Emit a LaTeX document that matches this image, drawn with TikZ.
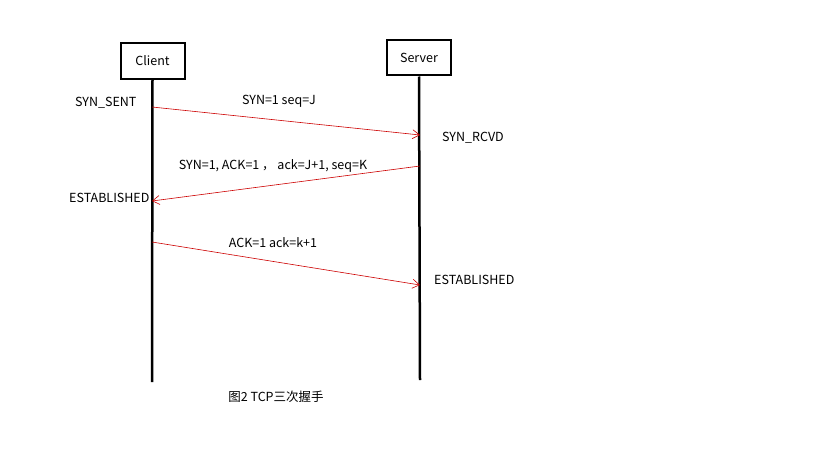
\documentclass[tikz,border=0pt]{standalone}
\usepackage{fontspec}
\setmainfont{Noto Sans CJK SC}
\usetikzlibrary{arrows.meta}
\begin{document}
\begin{tikzpicture}[x=1pt,y=-1pt,
  box/.style={draw,line width=2pt,minimum width=64pt,minimum height=35pt,inner sep=0pt,font=\fontsize{12.5}{14}\selectfont},
  life/.style={line width=2.5pt},
  msg/.style={draw=red!80!black,line width=0.6pt,-{Straight Barb[length=7pt,width=9pt]}},
  lbl/.style={font=\fontsize{12.5}{14}\selectfont}]
\useasboundingbox (0,0) rectangle (819,460);
\node[box] (c) at (152.5,61) {Client};
\node[box] (s) at (419,58) {Server};
\coordinate (cb) at (152,382);
\coordinate (sb) at (420,380);
\draw[life] (c.south) -- (cb);
\draw[life] (s.south) -- (sb);
\coordinate (a1) at (152,107); \coordinate (b1) at (420,135);
\coordinate (a2) at (420,166); \coordinate (b2) at (152,201);
\coordinate (a3) at (152,242); \coordinate (b3) at (420,285);
\draw[msg] (a1) -- (b1);
\draw[msg] (a2) -- (b2);
\draw[msg] (a3) -- (b3);
\node[lbl] (l1) at (279,101) {SYN=1 seq=J};
\node[lbl] (l2) at (273,166) {SYN=1, ACK=1 ， ack=J+1, seq=K};
\node[lbl] (l3) at (273,243) {ACK=1 ack=k+1};
\node[lbl,anchor=west,inner sep=0pt] (t1) at (75,103) {SYN\_SENT};
\node[lbl,anchor=west,inner sep=0pt] (t2) at (442,138) {SYN\_RCVD};
\node[lbl,anchor=west,inner sep=0pt] (t3) at (69,198) {ESTABLISHED};
\node[lbl,anchor=west,inner sep=0pt] (t4) at (434,280) {ESTABLISHED};
\node[lbl] (cap) at (276,397) {图2 TCP三次握手};
\end{tikzpicture}
\end{document}
